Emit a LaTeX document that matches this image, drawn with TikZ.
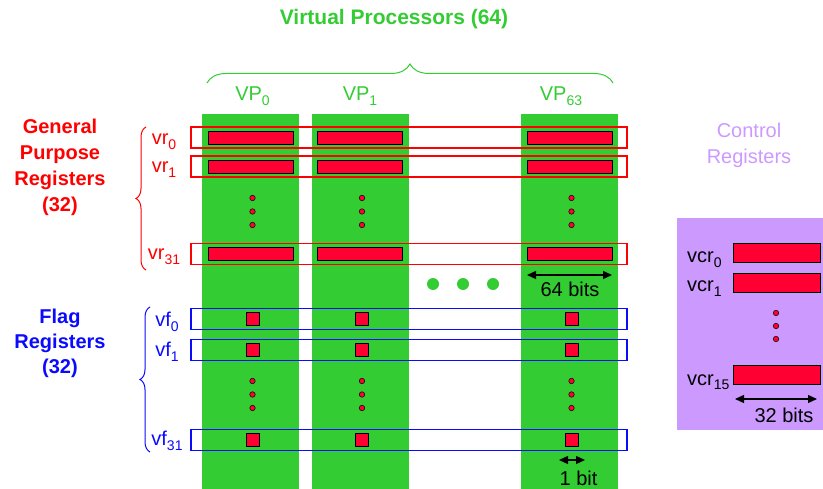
\documentclass[tikz,border=0pt]{standalone}
\usepackage{fontspec}
\setmainfont{Liberation Sans}
\usetikzlibrary{arrows.meta,decorations.pathreplacing}

\definecolor{vpgreen}{RGB}{51,204,51}
\definecolor{regred}{RGB}{255,0,0}
\definecolor{barred}{RGB}{255,0,51}
\definecolor{flagblue}{RGB}{10,10,255}
\definecolor{ctrllilac}{RGB}{204,153,255}
\newcommand{\lsub}[1]{\raisebox{-5pt}{\fontsize{14}{14}\selectfont #1}}

\tikzset{
  vpcol/.style={fill=vpgreen,inner sep=0,minimum width=97pt,minimum height=375pt,anchor=north},
  regrow/.style={draw=#1,line width=1.1pt,inner sep=0,minimum width=436pt,minimum height=21pt},
  wordbar/.style={draw=black,fill=barred,line width=.9pt,inner sep=0,minimum width=85pt,minimum height=13pt},
  flagbit/.style={draw=black,fill=barred,line width=.9pt,inner sep=0,minimum size=13pt},
  vdot/.style={circle,draw=black,fill=barred,line width=.5pt,inner sep=0,minimum size=5.5pt},
  bigdot/.style={circle,fill=vpgreen,inner sep=0,minimum size=12pt},
  dimarrow/.style={{Triangle[length=9pt,width=8pt]}-{Triangle[length=9pt,width=8pt]},line width=1.4pt},
  grp/.style={decorate,decoration={brace,amplitude=#1},line width=1pt},
  lab/.style={inner sep=0,anchor=base}
}

\begin{document}
\begin{tikzpicture}[x=1pt,y=-1pt,font={\fontsize{20}{26}\selectfont}]
  \useasboundingbox (0,0) rectangle (823,489);

  % virtual processors
  \node[lab,text=vpgreen,font={\fontsize{21}{26}\selectfont\bfseries}] (title) at (394,25) {Virtual Processors (64)};
  \coordinate (bl) at (207,83); \coordinate (br) at (613,83);
  \draw[grp=19pt,vpgreen] (bl) -- (br);
  \foreach \c/\x/\lx in {0/250.5/252.5,1/360/360,63/569.5/561}{
    \node[vpcol] (col\c) at (\x,114) {};
    \node[lab,text=vpgreen] (vp\c) at (\lx,101) {VP\lsub{\c}};
  }

  % general purpose registers
  \foreach \r/\y/\by in {0/137.5/145,1/166.5/173,31/254/260}{
    \node[regrow=regred] (vr\r) at (409,\y) {};
    \node[lab,text=regred] (vrlab\r) at (164,\by) {vr\lsub{\r}};
  }
  % flag registers
  \foreach \r/\y/\by in {0/319/327,1/350/357,31/440/446}{
    \node[regrow=flagblue] (vf\r) at (409,\y) {};
    \node[lab,text=flagblue] (vflab\r) at (167,\by) {vf\lsub{\r}};
  }

  \foreach \c/\x in {0/250.5,1/360,63/569.5}{
    \foreach \r/\y in {0/137.5,1/166.5,31/254}
      \node[wordbar] (w\c-\r) at (\x,\y) {};
    \foreach \r/\y in {0/319,1/350,31/440}
      \node[flagbit] (f\c-\r) at (\x+2,\y) {};
    \foreach \k/\y in {1/198,2/211.5,3/225}
      \node[vdot] (wd\c-\k) at (\x+2,\y) {};
    \foreach \k/\y in {1/381,2/394.5,3/408}
      \node[vdot] (fd\c-\k) at (\x+2,\y) {};
  }
  \foreach \k/\x in {1/433,2/463,3/493}
    \node[bigdot] (more\k) at (\x,284) {};

  % group labels
  \node[text=regred,font={\fontsize{20}{26}\selectfont\bfseries},align=center] (gpr) at (60,167) {General\\Purpose\\Registers\\(32)};
  \coordinate (gb) at (146,270); \coordinate (gt) at (146,127);
  \draw[grp=10pt,regred] (gb) -- (gt);
  \node[text=flagblue,font={\fontsize{20}{25}\selectfont\bfseries},align=center] (fr) at (60,343) {Flag\\Registers\\(32)};
  \coordinate (fb) at (150,452); \coordinate (ft) at (150,307);
  \draw[grp=10pt,flagblue] (fb) -- (ft);

  % widths
  \coordinate (w64a) at (527,275); \coordinate (w64b) at (612,275);
  \draw[dimarrow] (w64a) -- (w64b);
  \node[lab] (w64) at (570,297) {64 bits};
  \coordinate (w1a) at (559,460); \coordinate (w1b) at (585,460);
  \draw[dimarrow] (w1a) -- (w1b);
  \node[lab] (w1) at (578.5,485) {1 bit};

  % control registers
  \node[text=ctrllilac,align=center] (ctrl) at (749,145) {Control\\Registers};
  \node[fill=ctrllilac,inner sep=0,minimum width=146pt,minimum height=212pt] (vcrbox) at (750,324) {};
  \foreach \r/\y/\by in {0/252.5/263,1/282.5/292,15/375/385}{
    \node[draw=black,fill=barred,line width=.9pt,inner sep=0,minimum width=87pt,minimum height=19pt] (vcr\r) at (776.5,\y) {};
    \node[lab,anchor=base west] (vcrlab\r) at (687,\by) {vcr\lsub{\r}};
  }
  \foreach \k/\y in {1/313,2/326,3/339}
    \node[vdot] (cd\k) at (776,\y) {};
  \coordinate (w32a) at (735,399); \coordinate (w32b) at (817,399);
  \draw[dimarrow] (w32a) -- (w32b);
  \node[lab] (w32) at (784,423) {32 bits};
\end{tikzpicture}
\end{document}
